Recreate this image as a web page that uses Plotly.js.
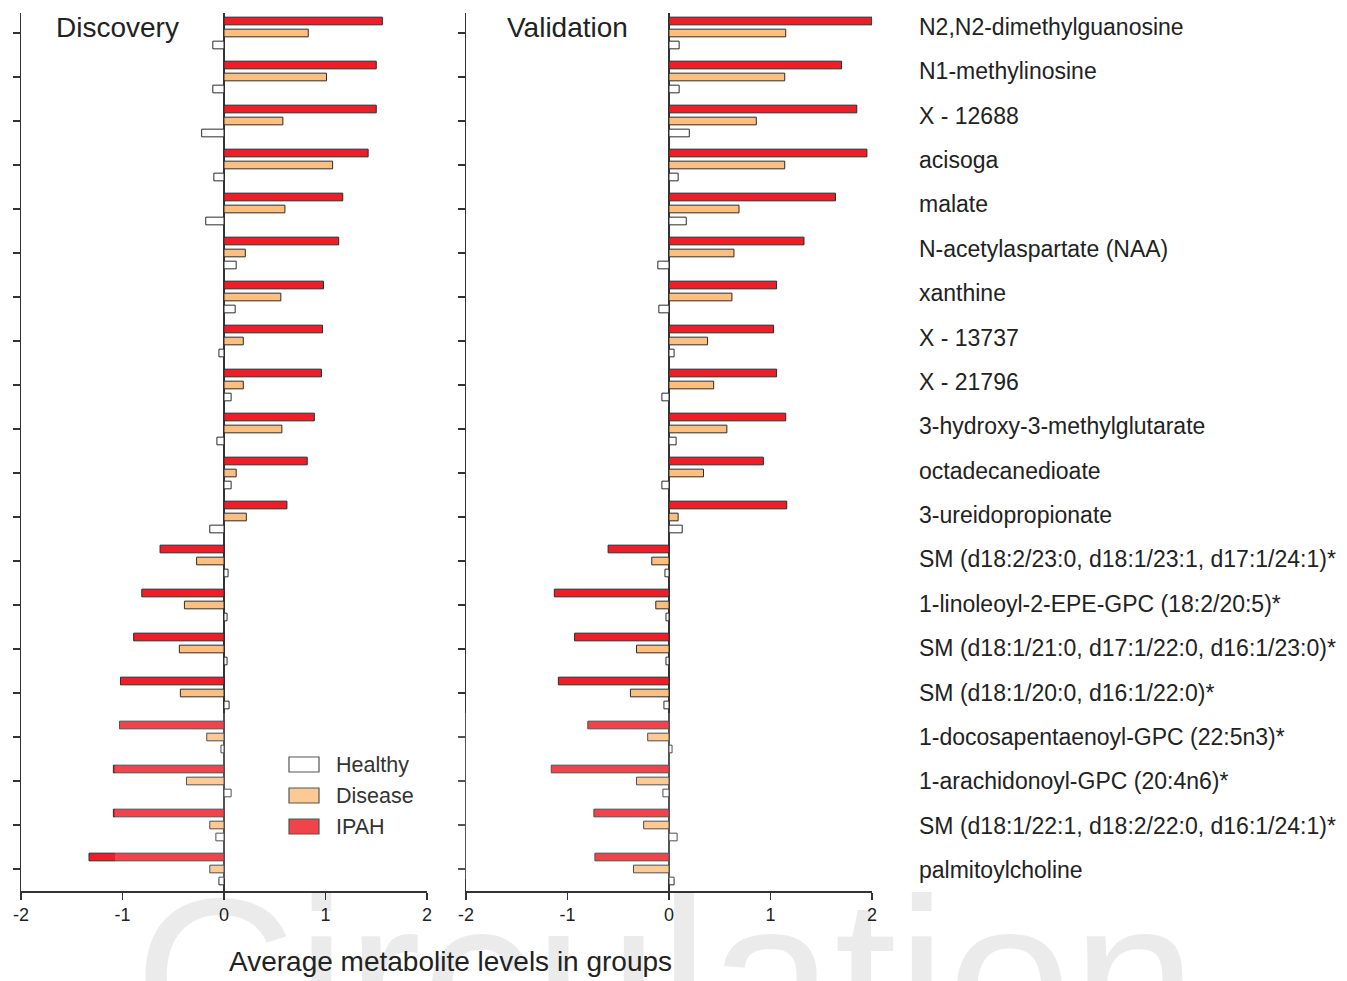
<!DOCTYPE html>
<html>
<head>
<meta charset="utf-8">
<script src="https://cdn.plot.ly/plotly-3.0.1.min.js"></script>
<style>html,body{margin:0;padding:0;background:#fff;}#chart{width:1347px;height:981px;}</style>
</head>
<body>
<div id="chart"></div>
<script>
const categories = [
  "N2,N2-dimethylguanosine", "N1-methylinosine", "X - 12688", "acisoga", "malate",
  "N-acetylaspartate (NAA)", "xanthine", "X - 13737", "X - 21796", "3-hydroxy-3-methylglutarate",
  "octadecanedioate", "3-ureidopropionate", "SM (d18:2/23:0, d18:1/23:1, d17:1/24:1)*",
  "1-linoleoyl-2-EPE-GPC (18:2/20:5)*", "SM (d18:1/21:0, d17:1/22:0, d16:1/23:0)*",
  "SM (d18:1/20:0, d16:1/22:0)*", "1-docosapentaenoyl-GPC (22:5n3)*", "1-arachidonoyl-GPC (20:4n6)*",
  "SM (d18:1/22:1, d18:2/22:0, d16:1/24:1)*", "palmitoylcholine"
];
const groupNames = ["Healthy", "Disease", "IPAH"];
const panelTitles = ["Discovery", "Validation"];
const xTicks = [-2, -1, 0, 1, 2];
const xTitle = "Average metabolite levels in groups";
const watermark = "Circulation";

const discIPAH = [1.56, 1.50, 1.50, 1.42, 1.17, 1.13, 0.98, 0.97, 0.96, 0.89, 0.82, 0.62, -0.63, -0.81, -0.89, -1.02, -1.03, -1.09, -1.09, -1.33];
const discDisease = [0.83, 1.01, 0.58, 1.07, 0.60, 0.21, 0.56, 0.19, 0.19, 0.57, 0.12, 0.22, -0.27, -0.39, -0.44, -0.43, -0.17, -0.37, -0.14, -0.14];
const discHealthy = [-0.11, -0.11, -0.22, -0.10, -0.18, 0.12, 0.11, -0.05, 0.07, -0.07, 0.07, -0.14, 0.04, 0.03, 0.03, 0.05, -0.03, 0.07, -0.08, -0.05];

const valIPAH = [2.00, 1.70, 1.85, 1.95, 1.64, 1.33, 1.06, 1.03, 1.06, 1.15, 0.93, 1.16, -0.60, -1.13, -0.93, -1.09, -0.80, -1.16, -0.74, -0.73];
const valDisease = [1.15, 1.14, 0.86, 1.14, 0.69, 0.64, 0.62, 0.38, 0.44, 0.57, 0.34, 0.09, -0.17, -0.13, -0.32, -0.38, -0.21, -0.32, -0.25, -0.35];
const valHealthy = [0.10, 0.10, 0.20, 0.09, 0.17, -0.11, -0.10, 0.05, -0.07, 0.07, -0.07, 0.13, -0.04, -0.03, -0.03, -0.05, 0.03, -0.06, 0.08, 0.05];

// ---- styling / layout ----
const W = 1347, H = 981;
const FONT = "Liberation Sans, Arial, Helvetica, sans-serif";
const colors = { Healthy: "#ffffff", Disease: "#fdbf80", IPAH: "#ec1f26" };
const outline = { color: "#2b2b2b", width: 1 };
const px = v => v / W;
const py = v => 1 - v / H;

function barTrace(name, x, xa, ya) {
  return {
    type: "bar", orientation: "h", name: name,
    x: x, y: categories, xaxis: xa, yaxis: ya,
    marker: { color: colors[name], line: outline },
    showlegend: false, hoverinfo: "x+y+name"
  };
}

// order top->bottom within a group: IPAH, Disease, Healthy
const data = [
  barTrace("IPAH", discIPAH, "x", "y"),
  barTrace("Disease", discDisease, "x", "y"),
  barTrace("Healthy", discHealthy, "x", "y"),
  barTrace("IPAH", valIPAH, "x2", "y2"),
  barTrace("Disease", valDisease, "x2", "y2"),
  barTrace("Healthy", valHealthy, "x2", "y2")
];

function xAxis(domain, anchor) {
  return {
    domain: domain, anchor: anchor, range: [-2, 2],
    tickmode: "array", tickvals: xTicks, ticktext: xTicks.map(String),
    ticks: "outside", ticklen: 7, tickwidth: 1.5, tickcolor: "#333",
    showline: true, linecolor: "#333", linewidth: 1.5,
    zeroline: true, zerolinecolor: "#333", zerolinewidth: 1.5,
    showgrid: false, automargin: false,
    tickfont: { family: FONT, size: 18, color: "#222" }
  };
}
function yAxis(anchor) {
  return {
    domain: [py(891), py(13)], anchor: anchor, type: "category",
    categoryorder: "array", categoryarray: categories,
    range: [19.5, -0.4545],
    ticks: "outside", ticklen: 7, tickwidth: 1.5, tickcolor: "#333",
    showticklabels: false, showline: true, linecolor: "#333", linewidth: 1.5,
    showgrid: false, zeroline: false, automargin: false
  };
}

const annotations = [];
// faint journal watermark
annotations.push({
  text: watermark, xref: "paper", yref: "paper", x: px(132), y: py(849),
  xanchor: "left", yanchor: "top", showarrow: false,
  font: { family: FONT, size: 225, color: "rgba(0,0,0,0.08)" }
});
// panel titles
annotations.push({ text: panelTitles[0], xref: "paper", yref: "paper", x: px(117), y: py(27),
  xanchor: "center", yanchor: "middle", showarrow: false, font: { family: FONT, size: 28, color: "#222" } });
annotations.push({ text: panelTitles[1], xref: "paper", yref: "paper", x: px(567), y: py(27),
  xanchor: "center", yanchor: "middle", showarrow: false, font: { family: FONT, size: 28, color: "#222" } });
// shared x title
annotations.push({ text: xTitle, xref: "paper", yref: "paper", x: px(450), y: py(961),
  xanchor: "center", yanchor: "middle", showarrow: false, font: { family: FONT, size: 28, color: "#222" } });
// category labels on the right (slightly wider pitch than the bar groups)
categories.forEach((c, i) => {
  annotations.push({
    text: c, xref: "paper", yref: "y2", x: px(917), y: -0.136 + i * 1.0084,
    xanchor: "left", yanchor: "middle", showarrow: false,
    font: { family: FONT, size: 23, color: "#222" }
  });
});

// legend (swatches + text)
const shapes = [];
const legendOrder = ["Healthy", "Disease", "IPAH"];
legendOrder.forEach((g, k) => {
  const top = 757 + k * 31;
  shapes.push({ type: "rect", xref: "paper", yref: "paper",
    x0: px(289), x1: px(319), y0: py(top + 15), y1: py(top),
    fillcolor: colors[g], line: { color: "#333", width: 1.2 }, layer: "above" });
  annotations.push({ text: g, xref: "paper", yref: "paper", x: px(334), y: py(top + 7.5),
    xanchor: "left", yanchor: "middle", showarrow: false,
    font: { family: FONT, size: 21.5, color: "#333" } });
});
// faint white veil from the logo watermark
shapes.push({ type: "rect", xref: "paper", yref: "paper",
  x0: px(115), x1: px(1330), y0: py(879), y1: py(713),
  fillcolor: "rgba(255,255,255,0.17)", line: { width: 0 }, layer: "above" });

const layout = {
  width: W, height: H,
  margin: { l: 0, r: 0, t: 0, b: 0, pad: 0 },
  paper_bgcolor: "#ffffff", plot_bgcolor: "rgba(0,0,0,0)",
  barmode: "group", bargap: 0.182, bargroupgap: 0.36,
  showlegend: false,
  font: { family: FONT, color: "#222" },
  xaxis: xAxis([px(21), px(427)], "y"),
  yaxis: yAxis("x"),
  xaxis2: xAxis([px(466), px(872)], "y2"),
  yaxis2: yAxis("x2"),
  annotations: annotations,
  shapes: shapes
};

Plotly.newPlot("chart", data, layout, { displayModeBar: false, staticPlot: true });
</script>
</body>
</html>
